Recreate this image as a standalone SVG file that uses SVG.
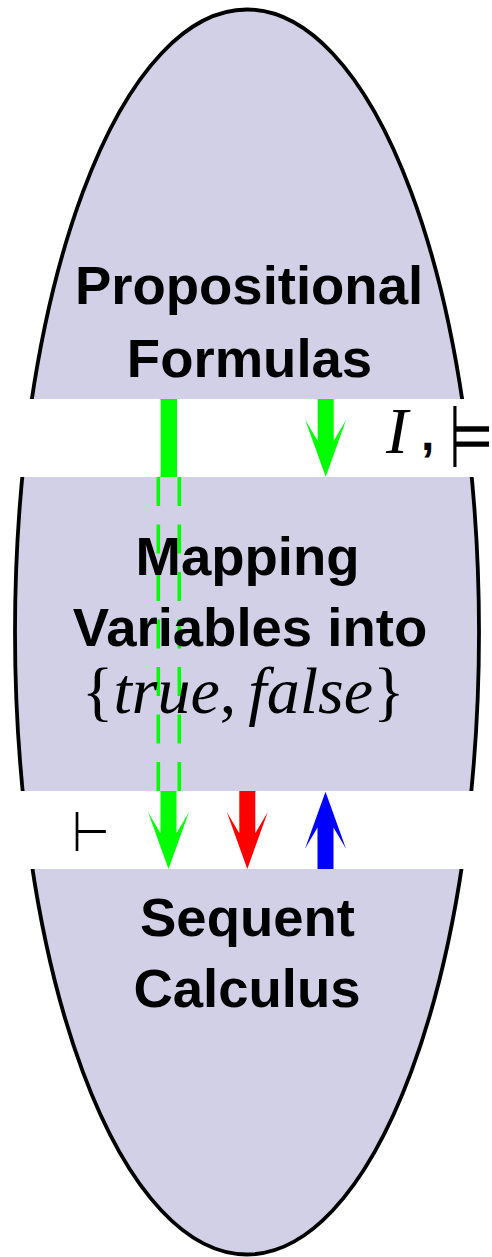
<svg xmlns="http://www.w3.org/2000/svg" width="492" height="1257" viewBox="0 0 492 1257">
<style>
.lbl{font-family:"Liberation Sans",Arial,sans-serif;font-weight:bold;font-size:54.5px;fill:#000;text-anchor:middle}
.math{font-family:"Liberation Serif","Times New Roman",serif;font-size:66px;fill:#000}
.sym{font-family:"DejaVu Sans",sans-serif;fill:#000}
.band{fill:#fff}
.dash{stroke:#00ff00;stroke-width:3.6;stroke-dasharray:29 18.5;fill:none}
</style>
<rect width="492" height="1257" fill="#fff"/>
<g id="region">
<ellipse cx="247" cy="632" rx="232" ry="622.5" fill="#d2d0e6" stroke="#000" stroke-width="3.8"/>
<rect class="band" x="0" y="399" width="492" height="78"/>
<rect class="band" x="0" y="791" width="492" height="78"/>
</g>
<g id="connectors">
<rect x="160.7" y="399" width="16.3" height="78" fill="#00ff00"/>
<line class="dash" x1="158.3" y1="477" x2="158.3" y2="791"/>
<line class="dash" x1="179.3" y1="477" x2="179.3" y2="791"/>
<path fill="#00ff00" d="M160.5,791 L160.5,833.3 L148,812 L168.5,869 L189,812 L176.5,833.3 L176.5,791 Z"/>
<path fill="#00ff00" d="M317.7,399 L317.7,441 L305.2,419.7 L325.7,476.7 L346.2,419.7 L333.7,441 L333.7,399 Z"/>
<path fill="#ff0000" d="M239.3,791 L239.3,833.3 L226.8,812 L247.3,869 L267.8,812 L255.3,833.3 L255.3,791 Z"/>
<path fill="#0000ff" d="M317.5,869 L317.5,827.4 L305,848.7 L325.5,791.7 L346,848.7 L333.5,827.4 L333.5,869 Z"/>
</g>
<g id="node-propositional">
<text class="lbl" x="249" y="303.5">Propositional</text>
<text class="lbl" x="249.5" y="376.5">Formulas</text>
</g>
<g id="node-mapping">
<text class="lbl" x="247.5" y="574.5">Mapping</text>
<text class="lbl" x="250" y="646">Variables into</text>
<text class="math" x="81.7" y="713" textLength="323" lengthAdjust="spacing"><tspan>{</tspan><tspan font-style="italic">true</tspan><tspan>,</tspan><tspan font-style="italic" dx="12">false</tspan><tspan>}</tspan></text>
</g>
<g id="node-sequent">
<text class="lbl" x="247.5" y="935.5">Sequent</text>
<text class="lbl" x="247" y="1007">Calculus</text>
</g>
<g id="labels">
<text class="math" x="386" y="453" font-style="italic">I</text>
<text class="lbl" x="421" y="450" style="text-anchor:start;font-size:48px">,</text>
<text class="sym" transform="translate(449,467) scale(0.82,1.4)" x="0" y="0" font-size="62" font-weight="200">⊨</text>
<text class="sym" transform="translate(71.5,851) scale(0.8,1.04)" x="0" y="0" font-size="54" font-weight="200">⊢</text>
</g>
</svg>
